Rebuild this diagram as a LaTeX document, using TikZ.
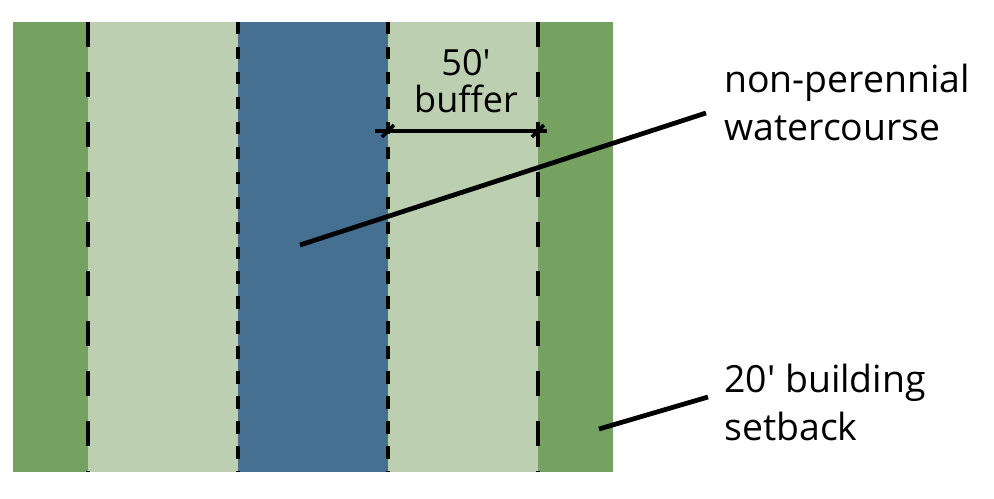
\documentclass[tikz,border=0pt]{standalone}
\usepackage{fontspec}
\setmainfont{Open Sans}
\usepackage{xcolor}
\usepackage{tikz}
\usetikzlibrary{positioning,calc}
\definecolor{setbackgreen}{RGB}{117,161,97}
\definecolor{buffergreen}{RGB}{188,207,176}
\definecolor{waterblue}{RGB}{70,112,146}
\newcommand{\ft}{\textquotesingle}

\begin{document}
\begin{tikzpicture}[
  x=0.02cm, y=-0.02cm,
  outerline/.style={line width=2.1pt, dash pattern=on 14.2pt off 14.2pt},
  innerline/.style={line width=2.1pt, dash pattern=on 7.1pt off 7.1pt},
  dim/.style={line width=2.6pt},
  tick/.style={line width=2.1pt},
  leader/.style={line width=2.7pt},
  lbl/.style={font=\fontsize{21.3pt}{27.3pt}\selectfont, align=left, inner sep=0pt, anchor=north west},
]
\useasboundingbox (0,0) rectangle (994,498);

% --- strips ---
\fill[setbackgreen] (13,22) rectangle (88,472);
\fill[buffergreen]  (88,22) rectangle (238,472);
\fill[waterblue]    (238,22) rectangle (388,472);
\fill[buffergreen]  (388,22) rectangle (538,472);
\fill[setbackgreen] (538,22) rectangle (613,472);

% --- buffer edges ---
\foreach \x in {88,538} \draw[outerline] (\x,22) -- (\x,472);
\foreach \x in {238,388} \draw[innerline] (\x,22) -- (\x,472);

% --- 50' dimension ---
\coordinate (dimL) at (375,131);
\coordinate (dimR) at (547,131);
\coordinate (tickA) at (388,131);
\coordinate (tickB) at (538,131);
\draw[dim] (dimL) -- (dimR);
\foreach \t in {tickA,tickB} \draw[tick] ($(\t)+(-6,6)$) -- ($(\t)+(6,-6)$);
\node[font=\fontsize{20.5pt}{21pt}\selectfont, align=center, inner sep=0pt, anchor=south] (dimlbl) at (466,113) {50\ft\\buffer};

% --- labels ---
\node[lbl] (waterlbl) at (724,64) {non-perennial\\watercourse};
\node[lbl] (setbacklbl) at (724,364) {20\ft{} building\\setback};
\coordinate (waterpt) at (300,245);
\coordinate (watertip) at (706,113);
\coordinate (setbackpt) at (599,429);
\coordinate (setbacktip) at (708,397);
\draw[leader] (waterpt) -- (watertip);
\draw[leader] (setbackpt) -- (setbacktip);
\end{tikzpicture}
\end{document}
